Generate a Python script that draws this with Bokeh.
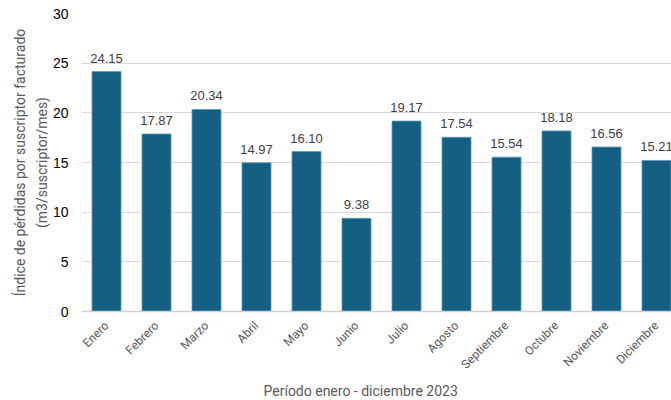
from bokeh.plotting import figure
from bokeh.models import ColumnDataSource, FixedTicker, Range1d, Title
from bokeh.embed import file_html
from bokeh.resources import INLINE
from bokeh.core.properties import value

meses = ["Enero", "Febrero", "Marzo", "Abril", "Mayo", "Junio", "Julio",
         "Agosto", "Septiembre", "Octubre", "Noviembre", "Diciembre"]
indice = [24.15, 17.87, 20.34, 14.97, 16.10, 9.38, 19.17,
          17.54, 15.54, 18.18, 16.56, 15.21]
y_ticks = [0, 5, 10, 15, 20, 25, 30]

xpos = [i + 0.5 for i in range(len(meses))]
src = ColumnDataSource(dict(
    x=xpos, top=indice, label=[f"{v:.2f}" for v in indice]))

p = figure(width=671, height=400, output_backend="svg", toolbar_location=None,
           x_range=Range1d(0, 11.8), y_range=Range1d(0, 30),
           min_border_left=81, min_border_right=0, min_border_top=13,
           min_border_bottom=88)
p.outline_line_color = None
p.background_fill_color = "white"

p.vbar(x="x", top="top", width=0.58, source=src,
       fill_color="#156082", line_color="#5b9bbd", line_width=0.8)
p.text(x="x", y="top", text="label", source=src, text_align="center",
       text_baseline="bottom", y_offset=-9, text_font=value("Liberation Sans"),
       text_font_size="13px", text_color="#404040")

# y axis
p.yaxis.ticker = FixedTicker(ticks=y_ticks)
p.yaxis.axis_line_color = None
p.yaxis.major_tick_line_color = None
p.yaxis.major_tick_out = 0
p.yaxis.major_tick_in = 0
p.yaxis.minor_tick_line_color = None
p.yaxis.minor_tick_out = 0
p.yaxis.major_label_text_font = "Liberation Sans"
p.yaxis.major_label_text_font_size = "14px"
p.yaxis.major_label_text_color = "#000000"
p.yaxis.major_label_standoff = 13
p.yaxis.axis_label = "Índice de pérdidas por suscriptor facturado\n(m3/suscriptor/mes)"
p.yaxis.axis_label_text_font = "Roboto"
p.yaxis.axis_label_text_font_style = "normal"
p.yaxis.axis_label_text_font_size = "14px"
p.yaxis.axis_label_text_line_height = 1.4
p.yaxis.axis_label_text_color = "#595959"
p.yaxis.axis_label_standoff = 0

# x axis
p.xaxis.ticker = FixedTicker(ticks=xpos)
p.xaxis.major_label_overrides = {x: m for x, m in zip(xpos, meses)}
p.xaxis.major_label_orientation = 0.785398
p.xaxis.axis_line_color = "#d0d0d0"
p.xaxis.axis_line_width = 1.5
p.xaxis.major_tick_line_color = None
p.xaxis.major_tick_out = 0
p.xaxis.major_tick_in = 0
p.xaxis.minor_tick_line_color = None
p.xaxis.minor_tick_out = 0
p.xaxis.major_label_text_font = "Roboto"
p.xaxis.major_label_text_font_size = "12px"
p.xaxis.major_label_text_color = "#595959"
p.xaxis.major_label_standoff = 12

# x axis title as a bottom title, left-aligned with a pixel offset
p.add_layout(Title(text="Período enero - diciembre 2023", align="left",
                   offset=182, standoff=3, text_font="Roboto",
                   text_font_size="14px", text_font_style="normal",
                   text_color="#595959"), "below")

p.xgrid.grid_line_color = None
p.ygrid.grid_line_color = "#d9d9d9"
p.ygrid.grid_line_width = 1

open("out.html", "w").write(file_html(p, INLINE))
